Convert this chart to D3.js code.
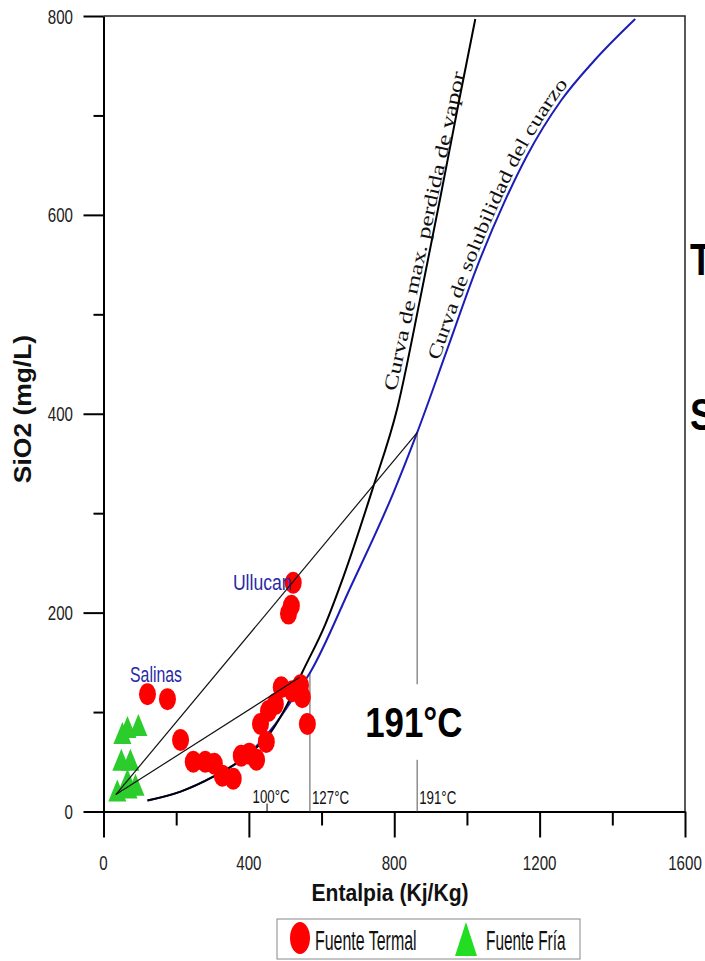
<!DOCTYPE html>
<html><head><meta charset="utf-8">
<script src="https://cdn.jsdelivr.net/npm/d3@7"></script>
<style>body{margin:0;background:#fff}svg{display:block}</style>
</head><body><svg id="c" width="705" height="961"></svg>
<script>
// ---- data ----
const xTicks=[0,400,800,1200,1600];
const xMinorTicks=[200,600,1000,1400];
const yTicks=[0,200,400,600,800];
const yMinorTicks=[100,300,500,700];

const termalH=[121,176,212,247,280,305,327,357,379,401,421,432,448,454,473,489,520,542,547,561,522,509,517];
const termalS=[118,113,72,50,50,48,36,33,56,58,52,88,70,101,108,125,121,127,115,88,230,199,207];
const friaH=[66,96,52,49,74,66,38,69,88];
const friaS=[83,85,77,50,50,30,19,22,25];

const quartzH=[121,212,302,390,473,520,569,679,797,863,946,1028,1102,1166,1259,1350,1463];
const quartzS=[11,20,35,55,88,113,140,225,320,381,465,548,612,660,715,755,797];
const steamH=[121,212,302,390,459,506,547,610,660,740,808,871,926,979,1023];
const steamS=[11,20,35,55,79,108,140,188,236,324,405,515,616,716,797];

const mixFromH=34, mixFromS=17;
const mixToH=[863,540];
const mixToS=[381,135];

const tempNames=["100°C","127°C","191°C"];
const tempH=[450,568,863];
const tempTopS=[8,140,381];

const siteNames=["Salinas","Ullucan"];
const siteH=[73,356];
const siteS=[130,223];

const steamLabel="Curva de max. perdida de vapor";
const steamLabelStart=[805,422], steamLabelEnd=[994,743];
const quartzLabel="Curva de solubilidad del cuarzo";
const quartzLabelStartS=452, quartzLabelEndS=730;

const legendNames=["Fuente Termal","Fuente Fría"];

// ---- setup ----
const svg=d3.select("#c");
const SANS="'Liberation Sans', Arial, sans-serif";
const SERIF="'Liberation Serif', 'Times New Roman', serif";
const x=d3.scaleLinear().domain([0,1600]).range([103.5,685]);
const y=d3.scaleLinear().domain([0,800]).range([811.5,16]);

function label(sel,str,px,py,o){
  o=o||{};
  return sel.append("text")
    .attr("transform",`translate(${px},${py}) rotate(${o.rot||0}) scale(${o.sx||1},1)`)
    .attr("font-family",o.family||SANS)
    .attr("font-size",o.size||14)
    .attr("font-weight",o.weight||"normal")
    .attr("text-anchor",o.anchor||"start")
    .attr("fill",o.fill||"#000")
    .text(str);
}

// frame (top & right)
svg.append("path").attr("d",`M${x(0)},${y(800)}H${x(1600)}V${y(0)}`)
  .attr("fill","none").attr("stroke","#222").attr("stroke-width",1.5);

// axes
function styleAxis(g,w){g.select(".domain").attr("stroke","#000").attr("stroke-width",w);
  g.selectAll(".tick line").attr("stroke","#000").attr("stroke-width",2);
  g.selectAll(".tick text").remove();}
svg.append("g").attr("transform",`translate(0,${y(0)})`)
  .call(d3.axisBottom(x).tickValues(xTicks).tickSize(26).tickSizeOuter(0)).call(g=>styleAxis(g,2));
svg.append("g").attr("transform",`translate(0,${y(0)})`)
  .call(d3.axisBottom(x).tickValues(xMinorTicks).tickSize(14).tickSizeOuter(0)).call(g=>styleAxis(g,0));
svg.append("g").attr("transform",`translate(${x(0)},0)`)
  .call(d3.axisLeft(y).tickValues(yTicks).tickSize(20).tickSizeOuter(0)).call(g=>styleAxis(g,2));
svg.append("g").attr("transform",`translate(${x(0)},0)`)
  .call(d3.axisLeft(y).tickValues(yMinorTicks).tickSize(10).tickSizeOuter(0)).call(g=>styleAxis(g,0));

const tl=svg.append("g");
xTicks.forEach(v=>label(tl,String(v),x(v),870,{size:21,sx:0.72,anchor:"middle",fill:"#222"}));
yTicks.forEach(v=>label(tl,String(v),73,y(v)+7.5,{size:21,sx:0.72,anchor:"end",fill:"#222"}));

// axis titles
label(svg,"Entalpia (Kj/Kg)",390,901,{size:24,weight:"bold",sx:0.88,anchor:"middle",fill:"#111"});
label(svg,"SiO2 (mg/L)",31,409,{size:23,weight:"bold",sx:1.15,anchor:"middle",rot:-90,fill:"#111"});

// temperature verticals
const tg=svg.append("g");
tempH.forEach((h,i)=>{
  tg.append("line").attr("x1",x(h)).attr("x2",x(h)).attr("y1",y(tempTopS[i])).attr("y2",y(0))
    .attr("stroke",i===0?"#000":"#555").attr("stroke-width",1);
});
label(tg,tempNames[0],x(tempH[0])+4,803,{size:18,sx:0.74,anchor:"middle",fill:"#111"});
label(tg,tempNames[1],x(tempH[1])+2,804,{size:18,sx:0.74,fill:"#111"});
label(tg,tempNames[2],x(tempH[2])+2,804,{size:18,sx:0.74,fill:"#111"});

// curves
const line=d3.line().x(d=>x(d[0])).y(d=>y(d[1])).curve(d3.curveMonotoneX);
const qPath=svg.append("path").datum(quartzH.map((h,i)=>[h,quartzS[i]])).attr("d",line)
  .attr("fill","none").attr("stroke","#1c1cb8").attr("stroke-width",2);
svg.append("path").datum(steamH.map((h,i)=>[h,steamS[i]])).attr("d",line)
  .attr("fill","none").attr("stroke","#000").attr("stroke-width",2);

// steam curve label (straight)
{
  const x0=x(steamLabelStart[0]), y0=y(steamLabelStart[1]);
  const x1=x(steamLabelEnd[0]), y1=y(steamLabelEnd[1]);
  const ang=Math.atan2(y1-y0,x1-x0)*180/Math.PI;
  const len=Math.hypot(x1-x0,y1-y0);
  const el=label(svg,steamLabel,x0,y0,{size:19,family:SERIF,rot:ang,fill:"#111"});
  const w=el.node().getComputedTextLength();
  el.attr("transform",`translate(${x0},${y0}) rotate(${ang}) scale(${len/w},1)`);
}

// quartz curve label (follows the curve)
{
  const node=qPath.node(), L=node.getTotalLength();
  const lenAtY=py=>{let lo=0,hi=L;for(let k=0;k<40;k++){const m=(lo+hi)/2;if(node.getPointAtLength(m).y>py)lo=m;else hi=m;}return (lo+hi)/2;};
  const l0=lenAtY(y(quartzLabelStartS)), l1=lenAtY(y(quartzLabelEndS));
  const pts=[];
  for(let l=l0-20;l<=l1+40;l+=3){
    const p=node.getPointAtLength(l), q=node.getPointAtLength(l+1);
    let dx=q.x-p.x, dy=q.y-p.y; const n=Math.hypot(dx,dy)||1; dx/=n; dy/=n;
    pts.push([p.x+dy*4, p.y-dx*4]);
  }
  svg.append("path").attr("id","qlab").attr("fill","none").attr("d",d3.line().curve(d3.curveBasis)(pts));
  const t=svg.append("text").attr("font-family",SERIF).attr("font-size",19).attr("fill","#111");
  t.append("textPath").attr("href","#qlab").attr("startOffset",20)
    .attr("textLength",l1-l0).attr("lengthAdjust","spacingAndGlyphs").text(quartzLabel);
}

// big annotation
const big=svg.append("g");
big.append("rect").attr("x",x(695)).attr("y",y(128)).attr("width",x(1010)-x(695)).attr("height",y(52)-y(128)).attr("fill","#fff");
label(big,"191°C",x(720),y(75),{size:42,weight:"bold",sx:0.83,fill:"#000"});
label(svg,"T",x(1614),y(540),{size:44,weight:"bold",sx:0.83});
label(svg,"S",x(1614),y(384),{size:44,weight:"bold",sx:0.83});

// points
const pg=svg.append("g");
termalH.forEach((h,i)=>pg.append("ellipse").attr("cx",x(h)).attr("cy",y(termalS[i])).attr("rx",8.5).attr("ry",11).attr("fill","#ff0000"));
const tri="M0,-13L9,9L-9,9Z";
friaH.forEach((h,i)=>pg.append("path").attr("d",tri).attr("transform",`translate(${x(h)},${y(friaS[i])})`).attr("fill","#2bcc2b"));

// site labels
siteNames.forEach((s,i)=>label(svg,s,x(siteH[i]),y(siteS[i]),{size:22,sx:i?0.8:0.72,fill:"#2a2aa8"}));

// mixing lines (on top)
mixToH.forEach((h,i)=>svg.append("line").attr("x1",x(mixFromH)).attr("y1",y(mixFromS))
  .attr("x2",x(h)).attr("y2",y(mixToS[i])).attr("stroke","#111").attr("stroke-width",1.2));

// legend
const lg=svg.append("g");
lg.append("rect").attr("x",277).attr("y",919).attr("width",303).attr("height",40).attr("fill","#fff").attr("stroke","#888").attr("stroke-width",1);
lg.append("ellipse").attr("cx",300).attr("cy",938).attr("rx",10).attr("ry",16).attr("fill","#ff0000");
label(lg,legendNames[0],315,950,{size:28,sx:0.57,fill:"#111"});
lg.append("path").attr("d","M466,922L477,956L455,956Z").attr("fill","#22dd22");
label(lg,legendNames[1],486,950,{size:28,sx:0.55,fill:"#111"});
</script></body></html>
